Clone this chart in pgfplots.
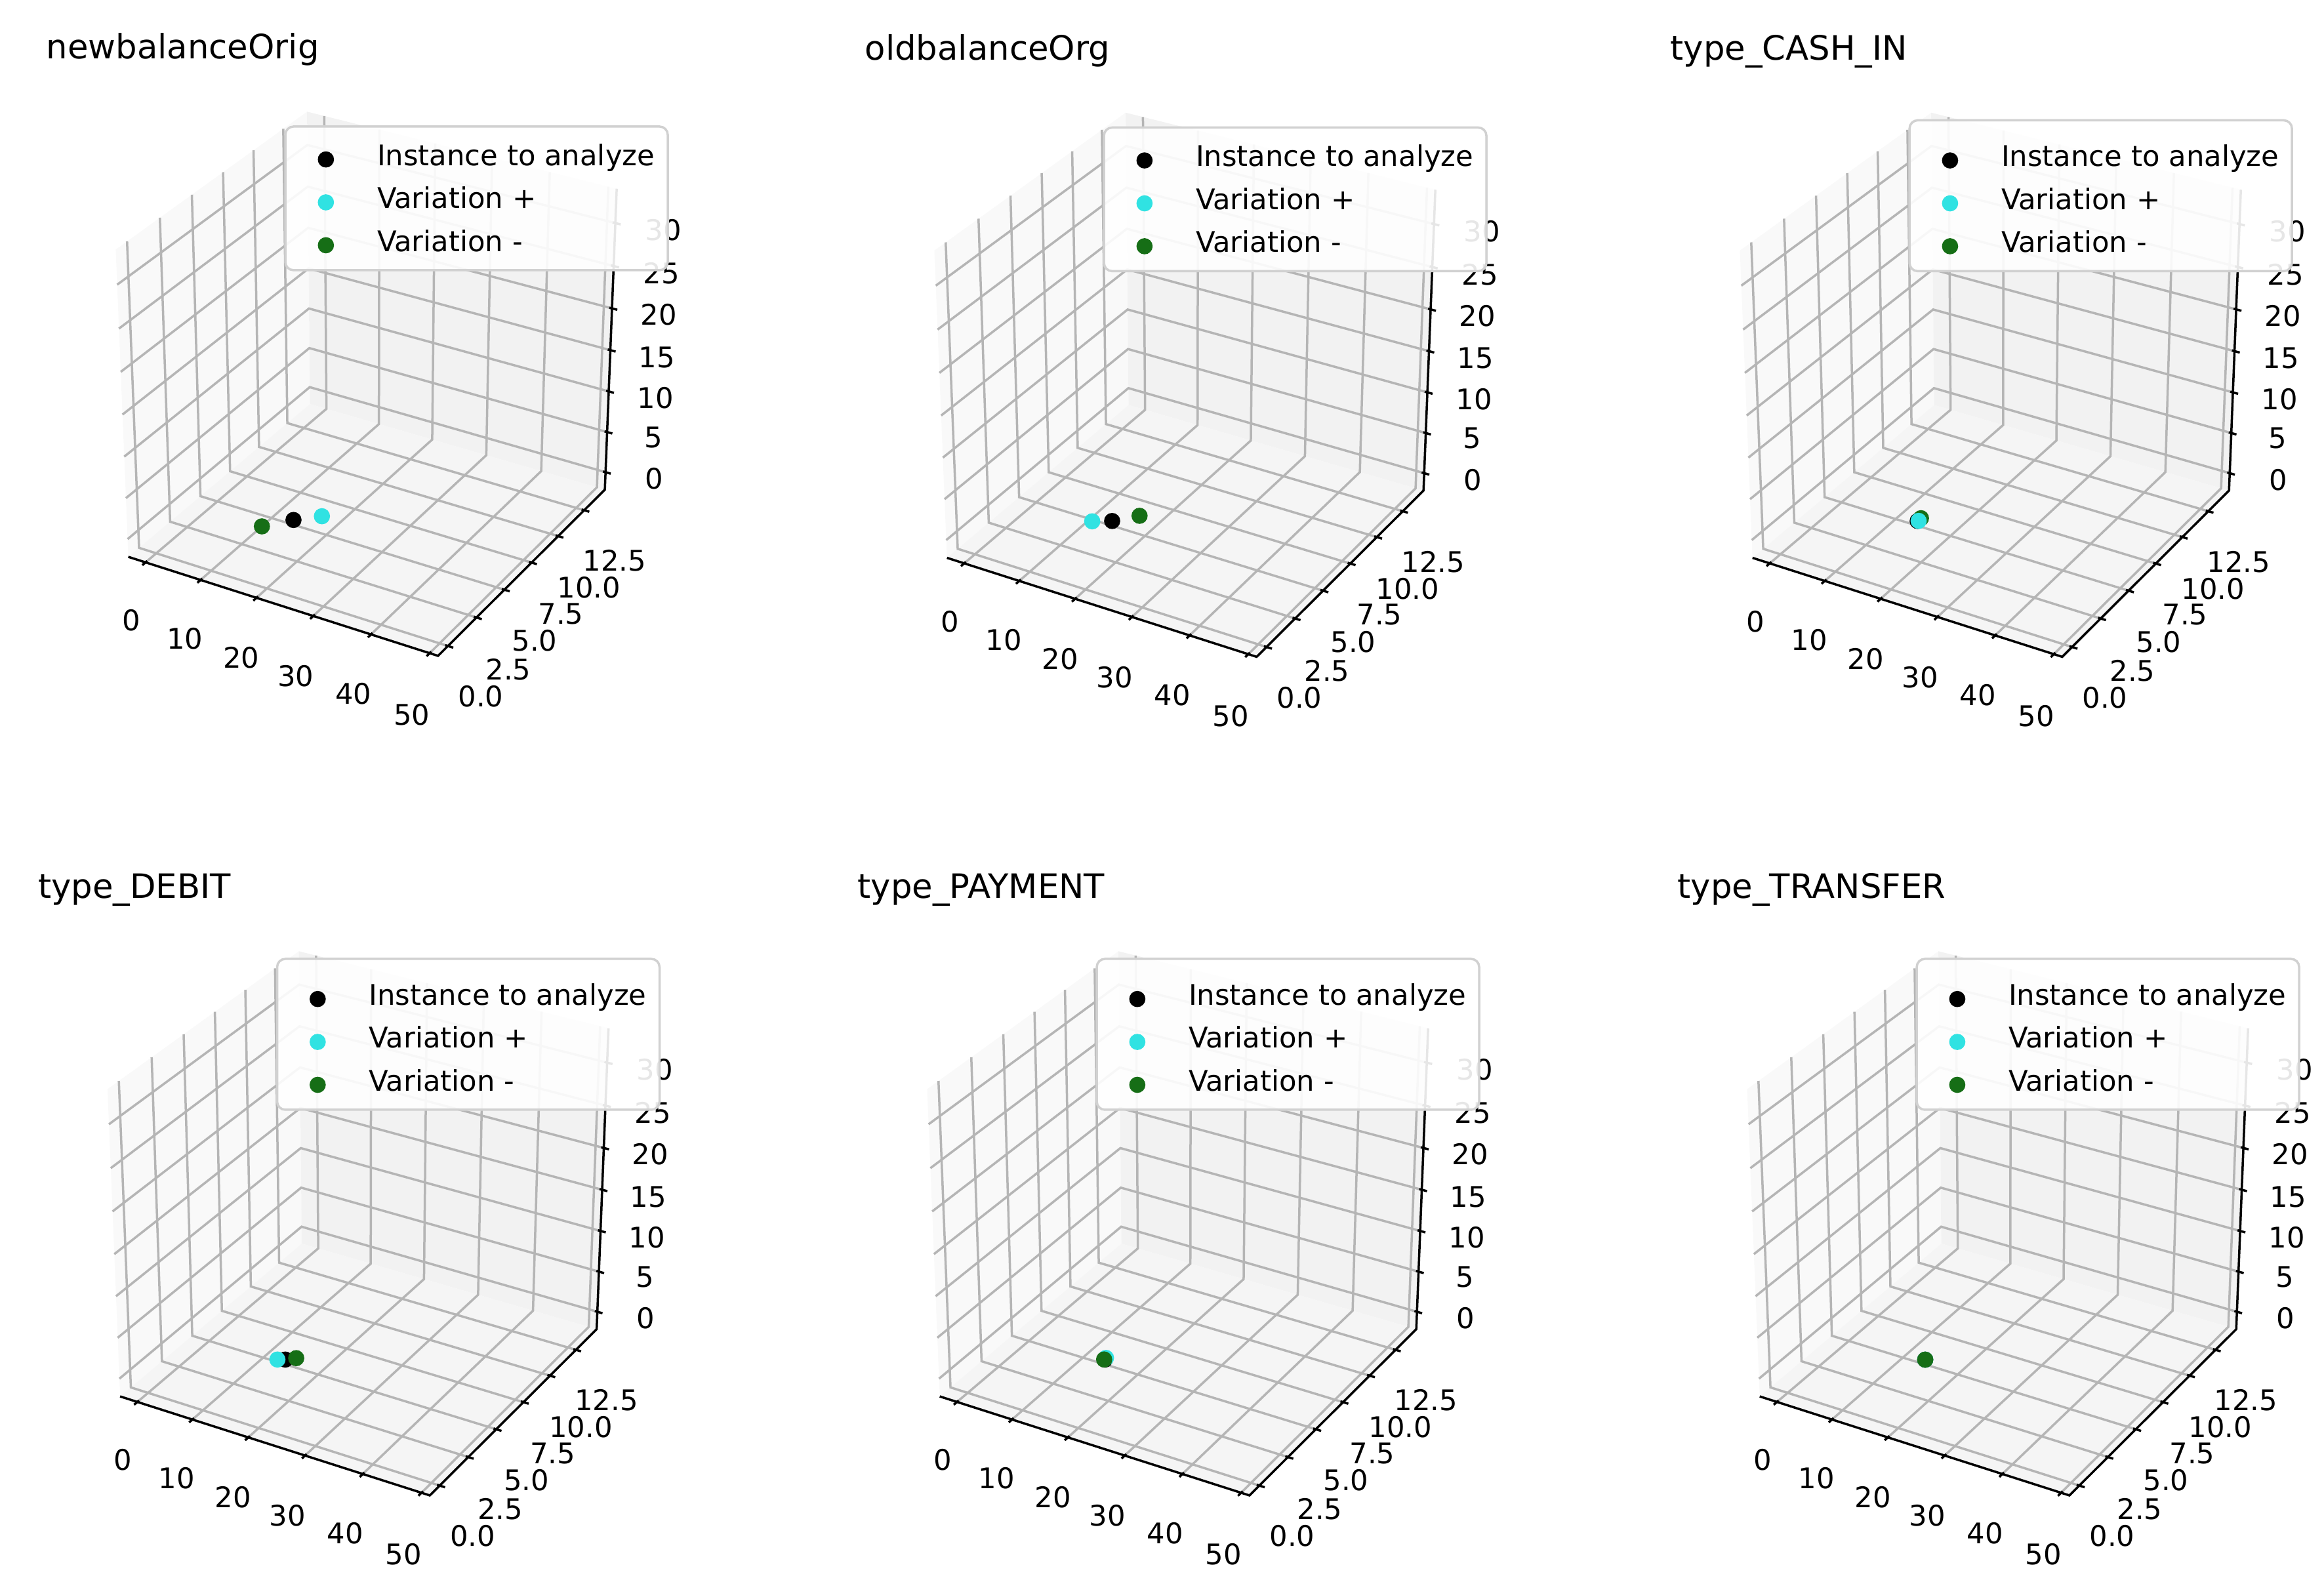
\documentclass[border=0pt]{standalone}
\usepackage{fontspec}
\setmainfont{DejaVu Sans}
\usepackage{pgfplots}
\pgfplotsset{compat=1.18}

\definecolor{gridc}{gray}{0.71}
\definecolor{framec}{gray}{0.82}
\definecolor{varplus}{RGB}{48,226,226}
\definecolor{varminus}{RGB}{22,110,22}

% camera of the reference: elev 30, azim -60, distance 10, limits of the box
\tikzset{declare function={
  nx(\x)=(\x+3.17)/54.58-0.5;
  ny(\y)=(\y+0.85)/15.39-0.5;
  nz(\z)=(\z+2.19)/36.14-0.5;
  dd(\x,\y,\z)=10-0.433*nx(\x)+0.75*ny(\y)-0.5*nz(\z);
  SX(\x,\y,\z)=564.5+5450*(0.866*nx(\x)+0.5*ny(\y))/dd(\x,\y,\z);
  SY(\x,\y,\z)=571-5350*(-0.25*nx(\x)+0.433*ny(\y)+0.866*nz(\z))/dd(\x,\y,\z);
}}
\pgfplotsset{
  table/proj/.style={row sep=\\,
    x expr={SX(\thisrow{x},\thisrow{y},\thisrow{z})},
    y expr={SY(\thisrow{x},\thisrow{y},\thisrow{z})}},
  gl/.style={gridc,line width=0.84pt,no markers,forget plot},
  al/.style={black,line width=0.84pt,no markers,forget plot},
  pane/.style={fill=black!#1,draw=none,no markers,forget plot},
}
\newcommand{\pts}[4]{\addplot[only marks,mark=*,mark size=2.76pt,#1,forget plot]
  table[proj] {x y z\\ #2 #3 #4\\};}

\newcommand{\cubebackground}{%
  \addplot[pane=2.5] table[proj] {x y z\\ -3.17 -0.85 -2.19\\ -3.17 -0.85 33.95\\ -3.17 14.54 33.95\\ -3.17 14.54 -2.19\\ -3.17 -0.85 -2.19\\};
  \addplot[pane=5] table[proj] {x y z\\ -3.17 14.54 -2.19\\ -3.17 14.54 33.95\\ 51.41 14.54 33.95\\ 51.41 14.54 -2.19\\ -3.17 14.54 -2.19\\};
  \addplot[pane=3.75] table[proj] {x y z\\ -3.17 -0.85 -2.19\\ 51.41 -0.85 -2.19\\ 51.41 14.54 -2.19\\ -3.17 14.54 -2.19\\ -3.17 -0.85 -2.19\\};
  \pgfplotsinvokeforeach{0,10,20,30,40,50}{
    \addplot[gl] table[proj] {x y z\\ ##1 -0.85 -2.19\\ ##1 14.54 -2.19\\ ##1 14.54 33.95\\};
    \addplot[al] table[proj] {x y z\\ ##1 -1.11 -2.19\\ ##1 -0.72 -2.19\\};
  }
  \pgfplotsinvokeforeach{0,2.5,5,7.5,10,12.5}{
    \addplot[gl] table[proj] {x y z\\ 51.41 ##1 -2.19\\ -3.17 ##1 -2.19\\ -3.17 ##1 33.95\\};
    \addplot[al] table[proj] {x y z\\ 50.96 ##1 -2.19\\ 52.32 ##1 -2.19\\};
  }
  \pgfplotsinvokeforeach{0,5,10,15,20,25,30}{
    \addplot[gl] table[proj] {x y z\\ -3.17 -0.85 ##1\\ -3.17 14.54 ##1\\ 51.41 14.54 ##1\\};
    \addplot[al] table[proj] {x y z\\ 50.96 14.54 ##1\\ 52.32 14.54 ##1\\};
  }
  \addplot[al] table[proj] {x y z\\ -3.17 -0.85 -2.19\\ 51.41 -0.85 -2.19\\ 51.41 14.54 -2.19\\ 51.41 14.54 33.95\\};
  \node at (axis cs:200,946) {0};
  \node at (axis cs:282,974) {10};
  \node at (axis cs:368,1003) {20};
  \node at (axis cs:451,1031) {30};
  \node at (axis cs:539,1058) {40};
  \node at (axis cs:628,1090) {50};
  \node at (axis cs:733,1062) {0.0};
  \node at (axis cs:775,1021) {2.5};
  \node at (axis cs:815,977) {5.0};
  \node at (axis cs:855,936) {7.5};
  \node at (axis cs:898,896) {10.0};
  \node at (axis cs:937,855) {12.5};
  \node at (axis cs:997,730) {0};
  \node at (axis cs:996,667) {5};
  \node at (axis cs:999,607) {10};
  \node at (axis cs:1001,545) {15};
  \node at (axis cs:1004,480) {20};
  \node at (axis cs:1008,417) {25};
  \node at (axis cs:1011,351) {30};
}

% #1,#2 shift of the panel in px, #3 title, #4 top of legend frame, #5 scatter points
\newcommand{\drawpanel}[5]{%
\begin{axis}[
  at={({#1*0.24pt},{(2411-#2)*0.24pt})}, anchor=north west,
  scale only axis, width=264pt, height=276pt,
  xmin=0, xmax=1100, ymin=0, ymax=1150, y dir=reverse,
  hide axis, clip=false,
  /tikz/font=\fontsize{10.4pt}{12pt}\selectfont,
  legend image code/.code={\fill[##1] (0pt,-0.3pt) circle (2.76pt);},
  legend cell align=left,
  legend style={at={(axis cs:484.5,219)}, anchor=north west, draw=none, fill=none,
    inner sep=0pt, outer sep=0pt, row sep=4.7pt,
    nodes={inner sep=0pt, text height=8pt, text depth=3pt},
    /tikz/column 1/.style={column sep=15.8pt}},
]
  \cubebackground
  #5
  \fill[white,opacity=0.9,draw=framec,draw opacity=1,line width=0.84pt,rounded corners=3pt]
    (axis cs:435,#4) rectangle (axis cs:1018,412);
  \node[anchor=base west,font=\fontsize{12.3pt}{14pt}\selectfont] at (axis cs:56,90) {#3};
  \addlegendimage{black}\addlegendentry{Instance to analyze}
  \addlegendimage{varplus}\addlegendentry{Variation +}
  \addlegendimage{varminus}\addlegendentry{Variation -}
\end{axis}}

\begin{document}
\begin{tikzpicture}
\path[use as bounding box] (0,0) rectangle (850.32pt,578.64pt);
\drawpanel{0}{0}{newbalanceOrig}{193}{
  \pts{black}{16.02}{4.09}{0}\pts{varplus}{19.27}{4.98}{0}\pts{varminus}{12.76}{2.95}{0}}
\drawpanel{1248}{1.5}{oldbalanceOrg}{193}{
  \pts{black}{16.02}{4.09}{0}\pts{varplus}{13.4}{3.63}{0}\pts{varminus}{18.92}{5.06}{0}}
\drawpanel{2476}{1.5}{type\_CASH\_IN}{182}{
  \pts{black}{16.02}{4.09}{0}\pts{varminus}{16.04}{4.36}{0}\pts{varplus}{16.13}{4.12}{0}}
\drawpanel{-12.5}{1280}{type\_DEBIT}{182}{
  \pts{black}{16.02}{4.09}{0}\pts{varplus}{14.96}{3.92}{0}\pts{varminus}{17.27}{4.43}{0}}
\drawpanel{1237}{1280}{type\_PAYMENT}{182}{
  \pts{black}{16.02}{4.09}{0}\pts{varplus}{15.91}{4.23}{0}\pts{varminus}{15.9}{4.08}{0}}
\drawpanel{2487}{1280}{type\_TRANSFER}{182}{
  \pts{black}{16.08}{4.09}{0}\pts{varplus}{16.08}{4.09}{0}\pts{varminus}{16.08}{4.09}{0}}
\end{tikzpicture}
\end{document}
